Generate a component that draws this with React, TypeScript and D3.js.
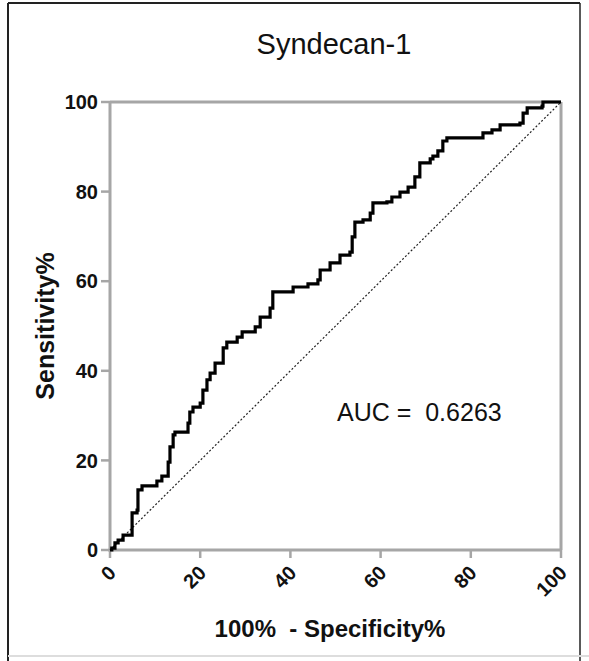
import React from "react";
import { scaleLinear, line, curveStepAfter } from "d3";

// ROC curve points (100% - specificity, sensitivity)
const fpr = [
  0, 0.4, 1.1, 1.8, 2.9, 4.9, 4.9, 6.0, 6.2, 7.1, 9.5, 10.4, 11.5, 12.6, 12.9,
  13.3, 14.0, 14.4, 16.6, 17.3, 17.7, 18.4, 20.0, 20.6, 21.5, 22.2, 23.3, 25.1,
  25.9, 28.2, 29.3, 32.2, 33.3, 35.5, 36.1, 39.9, 40.6, 43.9, 46.1, 46.6, 48.8,
  51.0, 53.2, 53.7, 54.3, 56.1, 57.7, 58.3, 61.4, 62.5, 64.3, 66.1, 67.2, 67.6,
  68.7, 71.0, 71.6, 72.7, 73.8, 74.7, 82.5, 82.7, 84.7, 86.5, 90.9, 91.6, 92.5,
  95.8, 96.0, 100,
];
const sensitivity = [
  0, 0.4, 1.6, 2.2, 3.3, 3.3, 8.3, 8.9, 13.4, 14.3, 14.3, 15.4, 16.5, 16.5,
  19.6, 23.0, 25.7, 26.3, 26.3, 28.3, 30.8, 31.9, 32.8, 35.7, 38.0, 39.5, 41.7,
  45.1, 46.4, 47.5, 48.7, 49.8, 52.0, 54.0, 57.6, 57.6, 58.7, 59.4, 60.3, 62.5,
  64.1, 65.8, 66.5, 69.9, 73.2, 73.7, 75.2, 77.5, 77.7, 78.8, 79.9, 81.0, 81.0,
  83.3, 86.4, 87.3, 87.9, 89.1, 91.3, 92.0, 92.0, 93.1, 93.8, 94.9, 95.3, 97.5,
  98.7, 99.1, 100, 100,
];
const xTicks = [0, 20, 40, 60, 80, 100];
const yTicks = [0, 20, 40, 60, 80, 100];
const title = "Syndecan-1";
const aucLabel = "AUC =  0.6263";

const width = 589;
const height = 661;
const left = 110;
const right = 561;
const top = 102;
const bottom = 550;
const font = "'Liberation Sans', Arial, sans-serif";
const axisColor = "#a6a6a6";

export default function App() {
  const x = scaleLinear().domain([0, 100]).range([left, right]);
  const y = scaleLinear().domain([0, 100]).range([bottom, top]);

  const points: [number, number][] = fpr.map((v, i) => [v, sensitivity[i]]);
  const roc = line<[number, number]>()
    .x((d) => x(d[0]))
    .y((d) => y(d[1]))
    .curve(curveStepAfter);

  return (
    <svg
      width={width}
      height={height}
      style={{ position: "absolute", left: 0, top: 0, background: "#fff" }}
    >
      {/* outer frame */}
      <line x1={8} y1={3} x2={8} y2={height} stroke="#222" strokeWidth={2} />
      <line x1={8} y1={3} x2={580} y2={3} stroke="#222" strokeWidth={2} />
      <line x1={580} y1={3} x2={580} y2={height} stroke="#222" strokeWidth={1.5} />
      <line x1={8} y1={656} x2={width} y2={656} stroke="#ddd" strokeWidth={2} />

      <text
        x={334}
        y={54}
        textAnchor="middle"
        fontFamily={font}
        fontSize={29}
        fill="#111"
      >
        {title}
      </text>

      {/* plot box */}
      <line x1={left} y1={top} x2={right} y2={top} stroke={axisColor} strokeWidth={3} />
      <line x1={right} y1={top} x2={right} y2={bottom} stroke={axisColor} strokeWidth={3} />
      <line x1={left} y1={top} x2={left} y2={bottom + 1.5} stroke={axisColor} strokeWidth={3} />
      <line x1={left - 1.5} y1={bottom} x2={right} y2={bottom} stroke={axisColor} strokeWidth={3} />

      {yTicks.map((t) => (
        <g key={t} transform={`translate(0,${y(t)})`}>
          <line x1={left - 9} x2={left} stroke={axisColor} strokeWidth={2.5} />
          <text
            x={left - 12}
            dy="0.36em"
            textAnchor="end"
            fontFamily={font}
            fontWeight="bold"
            fontSize={20}
            fill="#111"
          >
            {t}
          </text>
        </g>
      ))}

      {xTicks.map((t) => (
        <g key={t} transform={`translate(${x(t)},0)`}>
          <line y1={bottom} y2={bottom + 8} stroke={axisColor} strokeWidth={2.5} />
          <text
            transform={`translate(2,${bottom + 19}) rotate(-45)`}
            dy="0.36em"
            textAnchor="end"
            fontFamily={font}
            fontWeight="bold"
            fontSize={20}
            fill="#111"
          >
            {t}
          </text>
        </g>
      ))}

      {/* reference diagonal */}
      <line
        x1={x(0)}
        y1={y(0)}
        x2={x(100)}
        y2={y(100)}
        stroke="#222"
        strokeWidth={1.2}
        strokeDasharray="2,2"
      />

      <path
        d={roc(points) ?? ""}
        fill="none"
        stroke="#000"
        strokeWidth={3.2}
        strokeLinejoin="miter"
      />

      <text
        x={337}
        y={421}
        fontFamily={font}
        fontSize={25}
        fill="#111"
        style={{ whiteSpace: "pre" }}
      >
        {aucLabel}
      </text>

      <text
        transform={`translate(54,${(top + bottom) / 2}) rotate(-90)`}
        textAnchor="middle"
        fontFamily={font}
        fontWeight="bold"
        fontSize={25}
        fill="#111"
      >
        Sensitivity%
      </text>
      <text
        x={330}
        y={637}
        textAnchor="middle"
        fontFamily={font}
        fontWeight="bold"
        fontSize={24}
        fill="#111"
        style={{ whiteSpace: "pre" }}
      >
        {"100%  - Specificity%"}
      </text>
    </svg>
  );
}
